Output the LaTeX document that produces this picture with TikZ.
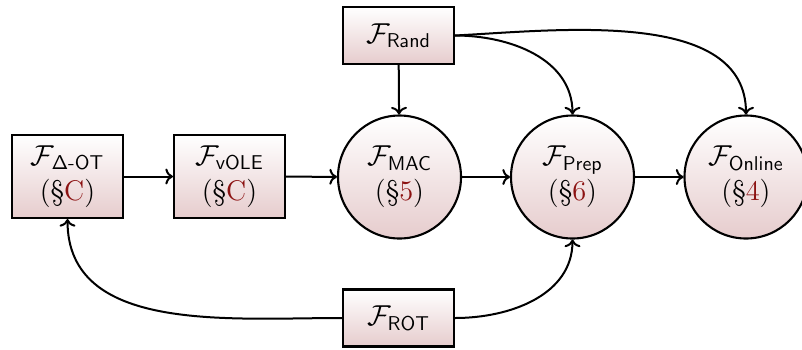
\documentclass[tikz,border=0pt]{standalone}
\usepackage{amsmath}
\usetikzlibrary{arrows.meta}
\definecolor{boxbot}{RGB}{230,204,205}
\definecolor{linkred}{RGB}{140,18,18}
\newcommand{\fun}[1]{\mathcal{F}_{\mathsf{#1}}}
\newcommand{\secref}[1]{(\S\textcolor{linkred}{#1})}
\begin{document}
\begin{tikzpicture}[x=0.5pt,y=-0.5pt,
  every node/.style={font=\fontsize{14.2}{17.5}\selectfont, align=center, inner sep=0pt},
  funbox/.style={draw, line width=1.05pt, top color=white, bottom color=boxbot, minimum width=55.5pt},
  funcirc/.style={draw, circle, line width=1.05pt, top color=white, bottom color=boxbot, minimum size=61.5pt},
  conn/.style={line width=1pt, ->}]
\clip (0,0) rectangle (802,349);
\useasboundingbox (0,0) rectangle (802,349);
\node[funbox, minimum height=41.5pt] (dot) at (67.5,176.5) {$\fun{\Delta\textsf{-}OT}$\\ \secref{C}};
\node[funbox, minimum height=41.5pt] (vole) at (229.5,176.5) {$\fun{vOLE}$\\ \secref{C}};
\node[funbox, minimum height=28.5pt] (rand) at (398.5,35.5) {$\fun{Rand}$};
\node[funbox, minimum height=28.5pt] (rot) at (398.5,318) {$\fun{ROT}$};
\node[funcirc] (mac) at (399.5,177) {$\fun{MAC}$\\ \secref{5}};
\node[funcirc] (prep) at (572.5,177) {$\fun{Prep}$\\ \secref{6}};
\node[funcirc] (online) at (746,177) {$\fun{Online}$\\ \secref{4}};
\draw[conn] (dot) -- (vole);
\draw[conn] (vole) -- (mac);
\draw[conn] (mac) -- (prep);
\draw[conn] (prep) -- (online);
\draw[conn] (rand) -- (mac);
\draw[conn] (rand.east) to[out=0,in=90] (prep.north);
\draw[conn] (rand.east) to[out=3,in=90,looseness=0.9] (online.north);
\draw[conn] (rot.west) to[out=180,in=-90] (dot.south);
\draw[conn] (rot.east) to[out=0,in=-90] (prep.south);
\end{tikzpicture}
\end{document}
